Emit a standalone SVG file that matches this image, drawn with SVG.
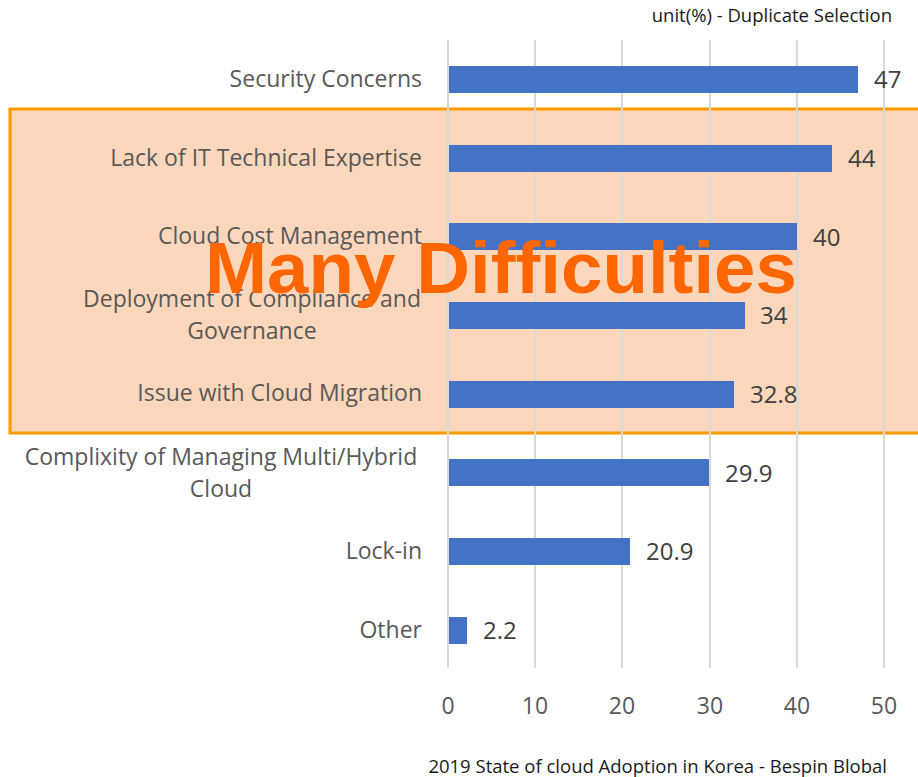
<svg xmlns="http://www.w3.org/2000/svg" width="918" height="777" viewBox="0 0 918 777">
<style>
.cat{font-family:"Open Sans","Liberation Sans",sans-serif;font-size:23px;fill:#595959}
.val{font-family:"Open Sans","Liberation Sans",sans-serif;font-size:24px;fill:#404040}
.tick{font-family:"Open Sans","Liberation Sans",sans-serif;font-size:23px;fill:#595959;text-anchor:middle}
.note{font-family:"Open Sans","Liberation Sans",sans-serif;font-size:18.5px;fill:#1a1a1a}
.grid{stroke:#d9d9d9;stroke-width:2}
.bar{fill:#4472C4}
</style>
<rect width="918" height="777" fill="#ffffff"/>
<g id="highlight">
<rect x="10" y="109" width="912" height="324" fill="#FDD7BB" stroke="#FF9900" stroke-width="3"/>
</g>
<g id="gridlines">
<line class="grid" x1="448" y1="40" x2="448" y2="668"/>
<line class="grid" x1="535" y1="40" x2="535" y2="668"/>
<line class="grid" x1="622" y1="40" x2="622" y2="668"/>
<line class="grid" x1="710" y1="40" x2="710" y2="668"/>
<line class="grid" x1="797" y1="40" x2="797" y2="668"/>
<line class="grid" x1="884" y1="40" x2="884" y2="668"/>
</g>
<g id="bars">
<rect class="bar" x="449" y="66" width="409" height="27"/>
<rect class="bar" x="449" y="145" width="383" height="27"/>
<rect class="bar" x="449" y="223" width="348" height="27"/>
<rect class="bar" x="449" y="302" width="296" height="27"/>
<rect class="bar" x="449" y="381" width="285" height="27"/>
<rect class="bar" x="449" y="459" width="260" height="27"/>
<rect class="bar" x="449" y="538" width="181" height="27"/>
<rect class="bar" x="449" y="617" width="18" height="27"/>
</g>
<g id="values">
<text class="val" x="874" y="88">47</text>
<text class="val" x="848" y="167">44</text>
<text class="val" x="813" y="246">40</text>
<text class="val" x="760" y="324">34</text>
<text class="val" x="750" y="403">32.8</text>
<text class="val" x="725" y="482">29.9</text>
<text class="val" x="646" y="560">20.9</text>
<text class="val" x="483" y="639">2.2</text>
</g>
<g id="categories">
<text class="cat" x="422" y="87" text-anchor="end">Security Concerns</text>
<text class="cat" x="422" y="166" text-anchor="end">Lack of IT Technical Expertise</text>
<text class="cat" x="422" y="244" text-anchor="end">Cloud Cost Management</text>
<text class="cat" x="252" y="307" text-anchor="middle">Deployment of Compliance and</text>
<text class="cat" x="252" y="339" text-anchor="middle">Governance</text>
<text class="cat" x="422" y="401" text-anchor="end">Issue with Cloud Migration</text>
<text class="cat" x="221" y="465" text-anchor="middle">Complixity of Managing Multi/Hybrid</text>
<text class="cat" x="221" y="497" text-anchor="middle">Cloud</text>
<text class="cat" x="422" y="559" text-anchor="end">Lock-in</text>
<text class="cat" x="422" y="638" text-anchor="end">Other</text>
</g>
<g id="axis">
<text class="tick" x="448" y="714">0</text>
<text class="tick" x="535" y="714">10</text>
<text class="tick" x="622" y="714">20</text>
<text class="tick" x="710" y="714">30</text>
<text class="tick" x="797" y="714">40</text>
<text class="tick" x="884" y="714">50</text>
</g>
<g id="title">
<text x="205" y="293" font-family="'Liberation Sans Narrow','Liberation Sans',sans-serif" font-weight="bold" font-size="72" fill="#FF6600" textLength="592" lengthAdjust="spacingAndGlyphs">Many Difficulties</text>
</g>
<g id="notes">
<text class="note" x="892" y="22" text-anchor="end">unit(%) - Duplicate Selection</text>
<text class="note" x="887" y="773" text-anchor="end">2019 State of cloud Adoption in Korea - Bespin Blobal</text>
</g>
</svg>
